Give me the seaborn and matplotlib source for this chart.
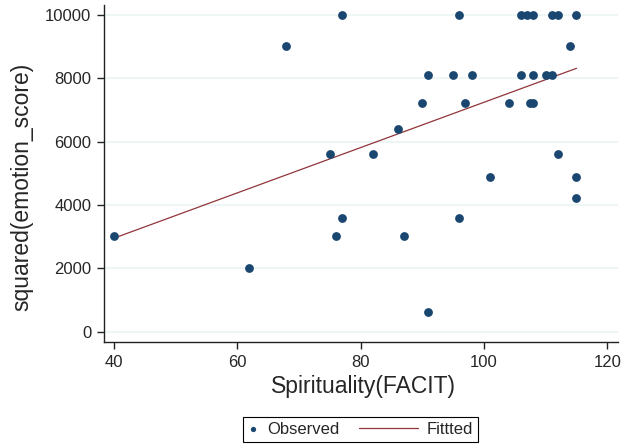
import numpy as np
import pandas as pd
import matplotlib
matplotlib.use("Agg")
import matplotlib.pyplot as plt
import seaborn as sns
from matplotlib.legend_handler import HandlerLine2D

# observed points
spirituality = [40, 62, 68, 75, 76, 77, 77, 82, 86, 87, 90, 91, 91, 95, 96, 96, 97, 98,
                101, 104, 106, 106, 107, 107.5, 108, 108, 108, 110, 111, 111, 112, 112,
                114, 115, 115, 115]
emotion_sq = [3025, 2025, 9025, 5625, 3025, 3600, 10000, 5625, 6400, 3025, 7225, 8100, 625,
              8100, 10000, 3600, 7225, 8100, 4900, 7225, 10000, 8100, 10000, 7225, 7225,
              10000, 8100, 8100, 8100, 10000, 10000, 5625, 9025, 10000, 4900, 4225]

# fitted line end points
fit_x = [40, 115]
fit_y = [2950, 8317]

x_ticks = [40, 60, 80, 100, 120]
y_ticks = [0, 2000, 4000, 6000, 8000, 10000]

df = pd.DataFrame({"x": spirituality, "y": emotion_sq})
fit = pd.DataFrame({"x": fit_x, "y": fit_y})

sns.set_theme(style="white")
plt.rcParams["font.family"] = ["Liberation Sans", "DejaVu Sans"]

fig = plt.figure(figsize=(6.24, 4.47), dpi=100)
ax = fig.add_axes([0.1672, 0.2356, 0.8232, 0.7532])

navy = "#1a476f"
maroon = "#90353b"

sns.scatterplot(data=df, x="x", y="y", ax=ax, color=navy, s=40, linewidth=0,
                label="Observed", zorder=3)
sns.lineplot(data=fit, x="x", y="y", ax=ax, color=maroon, linewidth=0.9,
             label="Fittted", zorder=2)

ax.set_xlim(38.48, 121.73)
ax.set_ylim(-316, 10316)
ax.set_xticks(x_ticks)
ax.set_yticks(y_ticks)
ax.tick_params(axis="both", labelsize=12, length=5, width=1, color="#222222",
               pad=4.5, direction="out", bottom=True, left=True)
ax.yaxis.grid(True, color="#eaf2f3", linewidth=1.1)
ax.xaxis.grid(False)
ax.set_axisbelow(True)

for side in ["top", "right"]:
    ax.spines[side].set_visible(False)
for side in ["left", "bottom"]:
    ax.spines[side].set_color("#222222")
    ax.spines[side].set_linewidth(1.0)

ax.set_xlabel("Spirituality(FACIT)", fontsize=16.5, va="center")
ax.set_ylabel("squared(emotion_score)", fontsize=16.5, va="center")
ax.xaxis.set_label_coords(0.504, -0.1345)
ax.yaxis.set_label_coords(-0.160, 0.461)


class LongLine(HandlerLine2D):
    # stretch the line key to the left, like the Stata legend
    def create_artists(self, legend, orig_handle, xdescent, ydescent, width,
                       height, fontsize, trans):
        extra = 2.94 * fontsize
        return super().create_artists(legend, orig_handle, xdescent + extra,
                                      ydescent, width + extra, height, fontsize, trans)


handles, labels = ax.get_legend_handles_labels()
ax.legend_.remove()
leg = fig.legend(handles, labels, loc="center",
                 bbox_to_anchor=(360.5 / 624, 1 - 429 / 447),
                 ncol=2, fontsize=12, frameon=True, fancybox=False,
                 edgecolor="black", framealpha=1, borderpad=0.3,
                 handlelength=0.6, handletextpad=0.54, columnspacing=4.12,
                 markerscale=0.6, scatterpoints=1,
                 handler_map={handles[1]: LongLine()})
leg.get_frame().set_linewidth(0.8)

fig.savefig("out.png", dpi=100)
